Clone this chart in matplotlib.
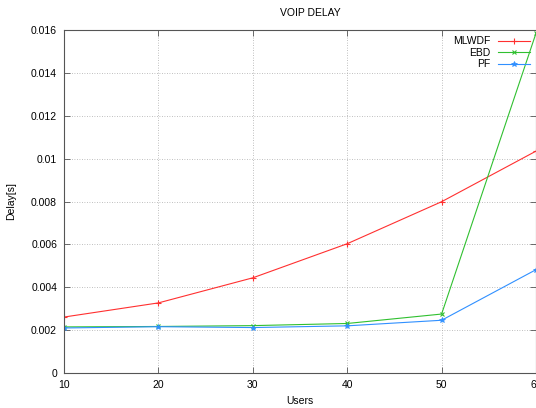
import matplotlib
matplotlib.use("Agg")
import matplotlib.pyplot as plt

plt.rcParams['font.family'] = ['Liberation Sans', 'DejaVu Sans']

users = [10, 20, 30, 40, 50, 60]
mlwdf = [0.00261, 0.00327, 0.00444, 0.00603, 0.00799, 0.01035]
ebd = [0.00215, 0.00217, 0.00221, 0.00231, 0.00275, 0.01585]
pf = [0.00210, 0.00216, 0.00212, 0.00220, 0.00246, 0.00482]

fig = plt.figure(figsize=(5.36, 4.08), dpi=100)
ax = fig.add_axes([64/536, 1-373/408, 472/536, 343/408])

ax.plot(users, mlwdf, color='#ff3030', lw=0.8, marker='+', ms=4, mew=0.8, label='MLWDF')
ax.plot(users, ebd, color='#30c030', lw=0.8, marker='x', ms=3, mew=0.8, label='EBD')
ax.plot(users, pf, color='#3090ff', lw=0.8, marker='*', ms=4, mew=0.5, label='PF')

ax.set_xlim(10, 60)
ax.set_ylim(0, 0.016)
ax.set_xticks(users)
ax.set_yticks([0, 0.002, 0.004, 0.006, 0.008, 0.01, 0.012, 0.014, 0.016])
ax.set_yticklabels(['0', '0.002', '0.004', '0.006', '0.008', '0.01', '0.012', '0.014', '0.016'])
ax.tick_params(direction='in', length=4, width=0.6, labelsize=7.5, color='#555555',
               top=True, right=True, pad=5)
ax.grid(True, linestyle=(0, (1, 2)), linewidth=0.6, color='#aaaaaa')
for s in ax.spines.values():
    s.set_color('#555555')
    s.set_linewidth(0.8)

# labels placed in figure pixels, like the gnuplot original
fig.text(310/536, 1-13/408, 'VOIP DELAY', fontsize=7.5, ha='center', va='center')
fig.text(300/536, 1-401/408, 'Users', fontsize=7.5, ha='center', va='center')
fig.text(11/536, 1-201/408, 'Delay[s]', fontsize=7.5, ha='center', va='center', rotation=90)

ax.legend(loc='upper right', frameon=False, markerfirst=False, fontsize=7.5,
          handlelength=3.0, borderaxespad=0.2, labelspacing=0.15, handletextpad=0.8)

fig.savefig('out.png', dpi=100)
